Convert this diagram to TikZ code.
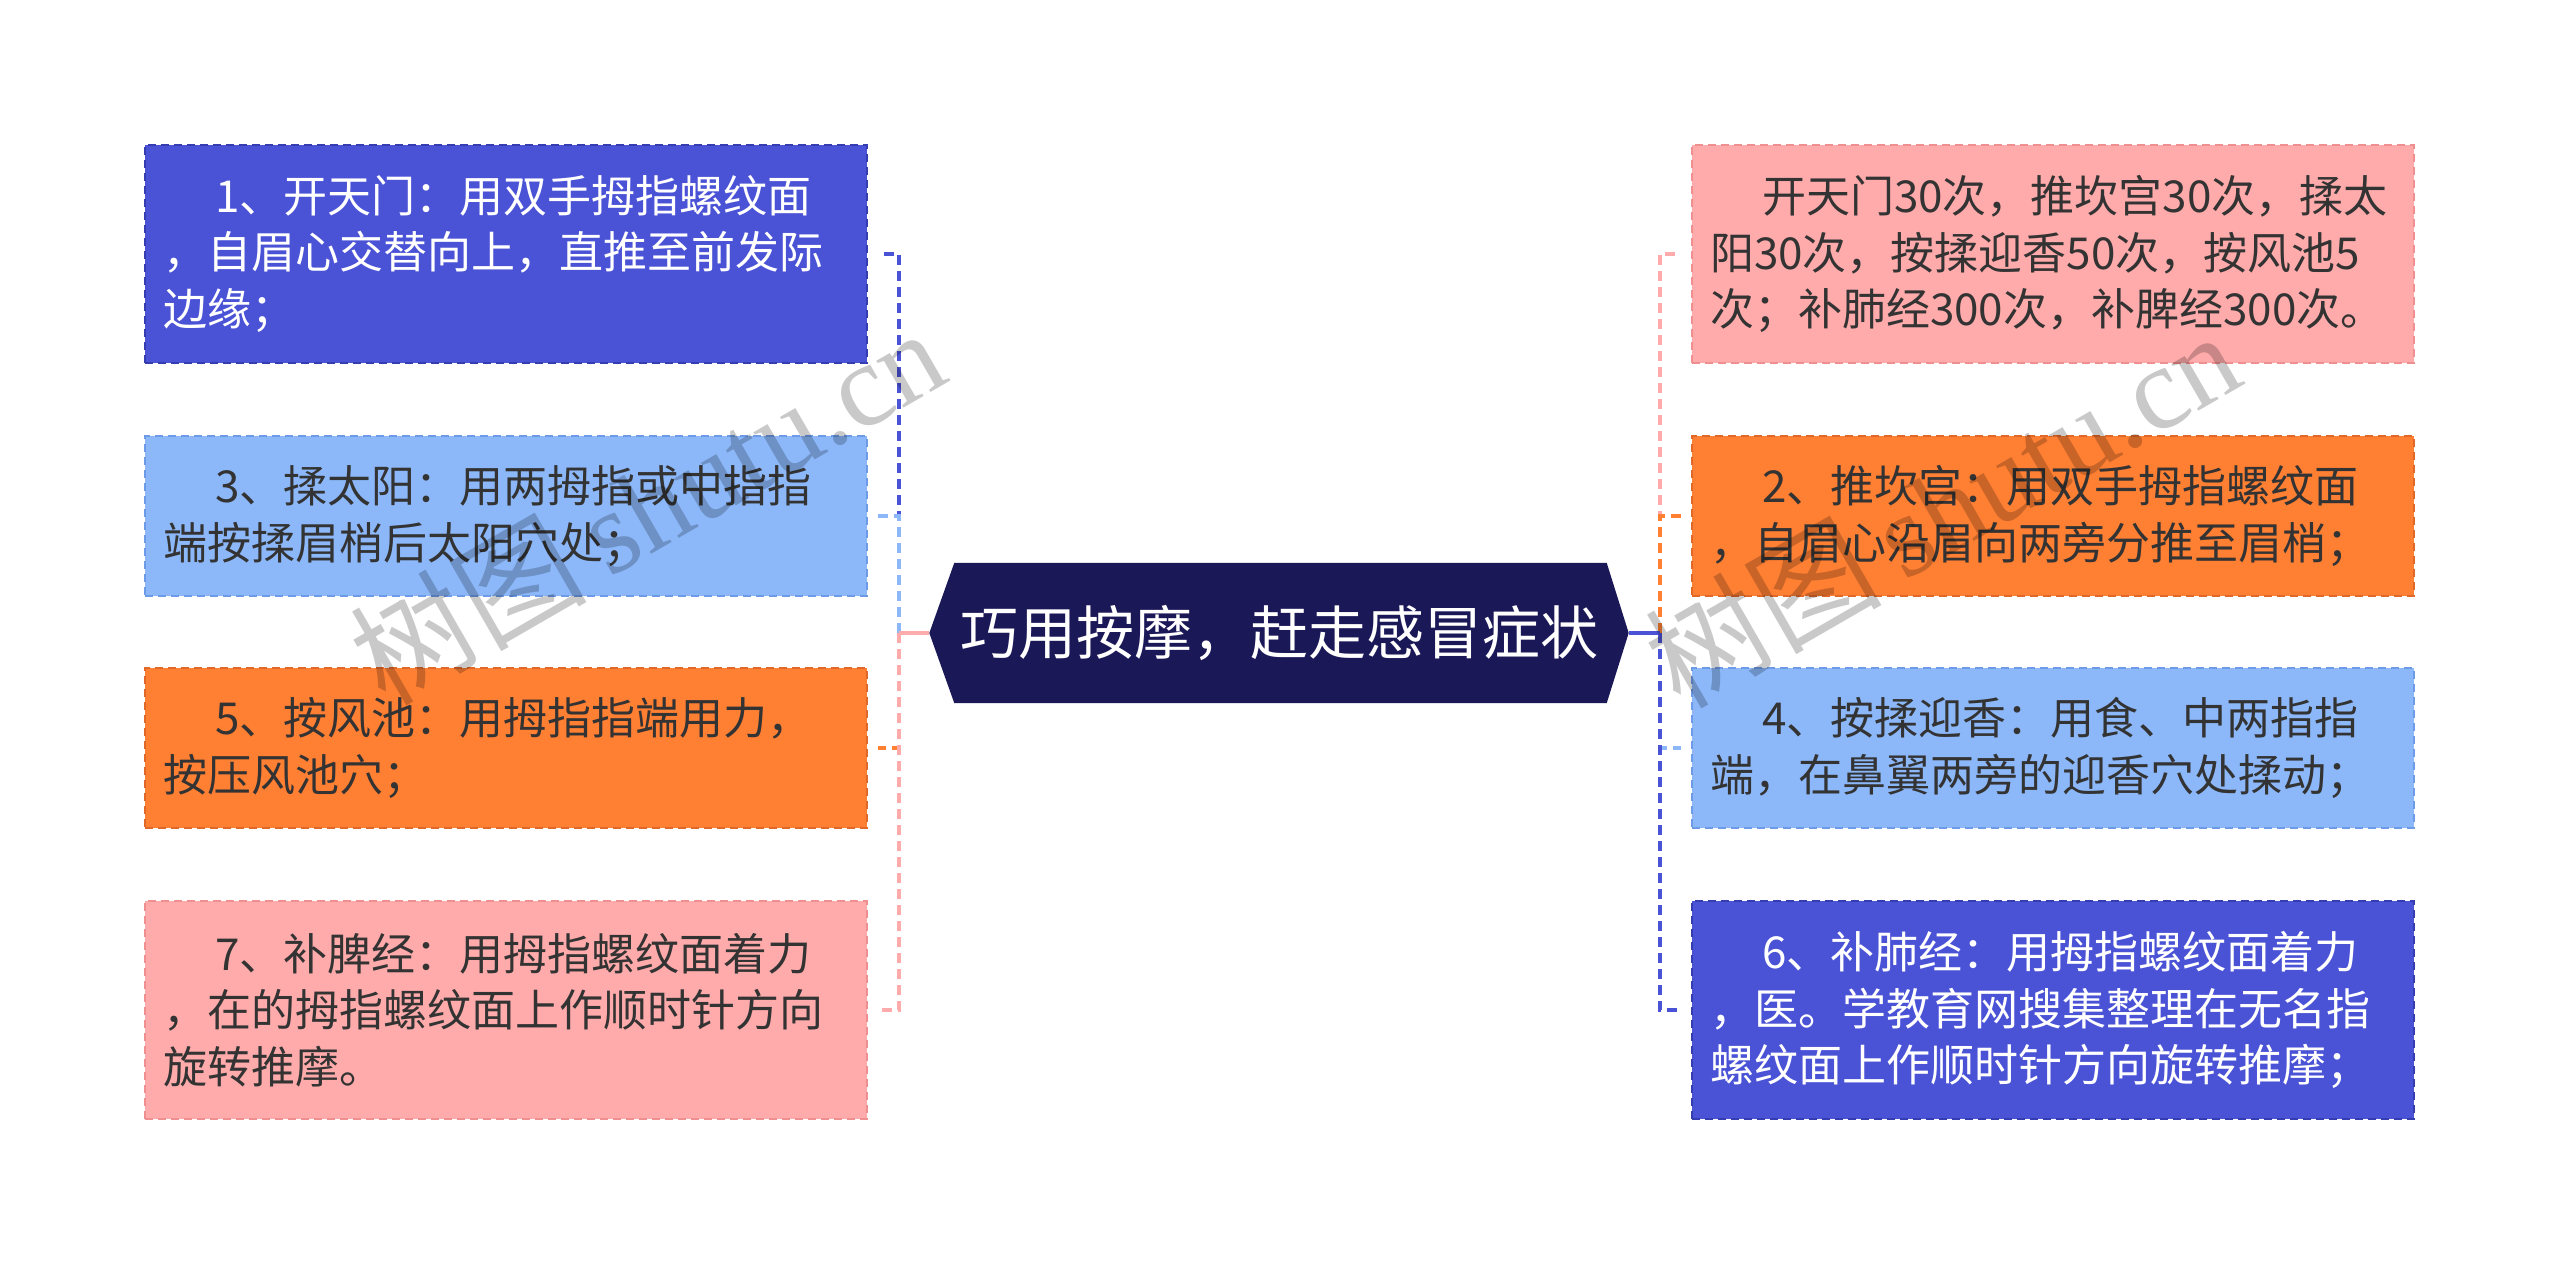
\documentclass[tikz,border=0pt]{standalone}
\usepackage{fontspec}
\newfontfamily\cjk{Noto Sans CJK SC}
\newfontfamily\wmserif{Liberation Serif}
\usetikzlibrary{backgrounds}
\definecolor{cblue}{HTML}{4A52D6}
\definecolor{cbluebd}{HTML}{363DB0}
\definecolor{clight}{HTML}{8CB8FA}
\definecolor{clightbd}{HTML}{6E9BE8}
\definecolor{corange}{HTML}{FF7F33}
\definecolor{corangebd}{HTML}{E0692A}
\definecolor{cpink}{HTML}{FFABAB}
\definecolor{cpinkbd}{HTML}{F08F8F}
\definecolor{cnavy}{HTML}{1B1857}
\definecolor{ctext}{HTML}{333333}
\begin{document}
\begin{tikzpicture}[x=1pt,y=-1pt,
  box/.style={minimum width=722pt, text width=686pt, inner xsep=18pt, inner ysep=0pt,
    align=left, font=\cjk\fontsize{44}{56.5}\selectfont, line width=2pt,
    dash pattern=on 8pt off 5pt},
  tall/.style={minimum height=218pt},
  short/.style={minimum height=160pt},
  bluebox/.style={box, fill=cblue, draw=cbluebd, text=white},
  lightbox/.style={box, fill=clight, draw=clightbd, text=ctext},
  orangebox/.style={box, fill=corange, draw=corangebd, text=ctext},
  pinkbox/.style={box, fill=cpink, draw=cpinkbd, text=ctext},
  conn/.style={line width=4.5pt, dash pattern=on 10pt off 6pt},
  trunk/.style={line width=4pt},
  wm/.style={rotate=30, text=black, opacity=0.21, inner sep=0pt}
]
\useasboundingbox (0,0) rectangle (2560,1265);

% center node
\node[font=\cjk\fontsize{58}{70}\selectfont, text=white, minimum width=699pt,
  minimum height=140pt, inner sep=0pt] (c) at (1279,633) {巧用按摩，赶走感冒症状};
\begin{pgfonlayer}{background}
\fill[cnavy] ([xshift=25pt]c.north west) -- ([xshift=-22pt]c.north east) -- (c.east)
  -- ([xshift=-22pt]c.south east) -- ([xshift=25pt]c.south west) -- (c.west) -- cycle;
\end{pgfonlayer}

% left boxes
\node[bluebox, tall] (b1) at (506,254) {\hspace*{52pt}1、开天门：用双手拇指螺纹面\\，自眉心交替向上，直推至前发际\\边缘；};
\node[lightbox, short] (b3) at (506,516) {\hspace*{52pt}3、揉太阳：用两拇指或中指指\\端按揉眉梢后太阳穴处；};
\node[orangebox, short] (b5) at (506,748) {\hspace*{52pt}5、按风池：用拇指指端用力，\\按压风池穴；};
\node[pinkbox, tall] (b7) at (506,1010) {\hspace*{52pt}7、补脾经：用拇指螺纹面着力\\，在的拇指螺纹面上作顺时针方向\\旋转推摩。};

% right boxes
\node[pinkbox, tall] (r1) at (2053,254) {\hspace*{52pt}开天门30次，推坎宫30次，揉太\\阳30次，按揉迎香50次，按风池5\\次；补肺经300次，补脾经300次。};
\node[orangebox, short] (r2) at (2053,516) {\hspace*{52pt}2、推坎宫：用双手拇指螺纹面\\，自眉心沿眉向两旁分推至眉梢；};
\node[lightbox, short] (r4) at (2053,748) {\hspace*{52pt}4、按揉迎香：用食、中两指指\\端，在鼻翼两旁的迎香穴处揉动；};
\node[bluebox, tall] (r6) at (2053,1010) {\hspace*{52pt}6、补肺经：用拇指螺纹面着力\\，医。学教育网搜集整理在无名指\\螺纹面上作顺时针方向旋转推摩；};

% junctions
\coordinate (jl) at (899,633);
\coordinate (jr) at (1660,633);

% left connectors
\draw[conn, cblue] (jl) |- ([xshift=10pt]b1.east);
\draw[conn, clight] (jl) |- ([xshift=10pt]b3.east);
\draw[conn, corange] (jl) |- ([xshift=10pt]b5.east);
\draw[conn, cpink] (jl) |- ([xshift=10pt]b7.east);
\draw[trunk, cpink] (c.west) -- (jl);

% right connectors
\draw[conn, cpink] (jr) |- ([xshift=-10pt]r1.west);
\draw[conn, corange] (jr) |- ([xshift=-10pt]r2.west);
\draw[conn, clight] (jr) |- ([xshift=-10pt]r4.west);
\draw[conn, cblue] (jr) |- ([xshift=-10pt]r6.west);
\draw[trunk, cblue] (c.east) -- (jr);

% watermarks
\node[wm] (wm1) at (647,505) {\cjk\fontsize{118}{124}\selectfont 树图\hspace{22pt}\wmserif shutu.cn};
\node[wm] (wm2) at (1942,508) {\cjk\fontsize{118}{124}\selectfont 树图\hspace{22pt}\wmserif shutu.cn};
\end{tikzpicture}
\end{document}
